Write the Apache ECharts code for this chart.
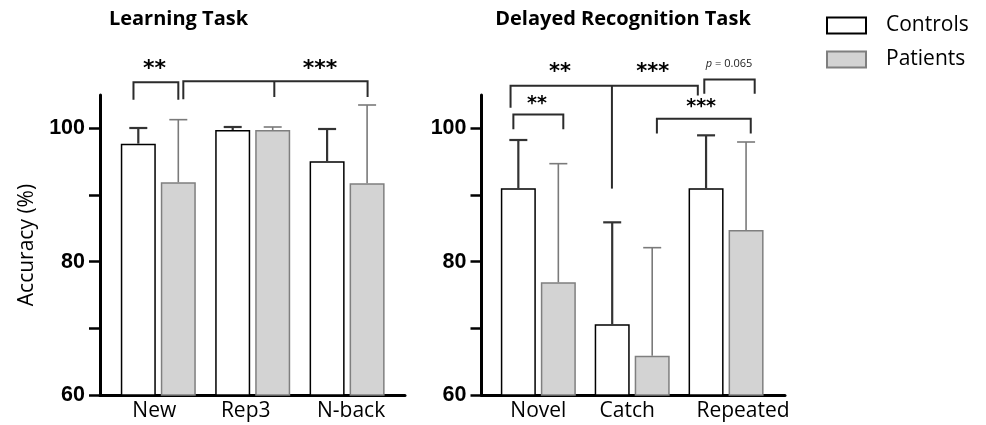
<!DOCTYPE html>
<html><head><meta charset="utf-8">
<script src="https://cdn.jsdelivr.net/npm/echarts@6/dist/echarts.min.js"></script>
<style>html,body{margin:0;padding:0;background:#fff}#c{width:986px;height:425px}</style>
</head><body><div id="c"></div>
<script>
// ---- data ----
const learningCategories = ['New', 'Rep3', 'N-back'];
const learningControls = [97.7, 99.75, 95.05];
const learningControlsSD = [2.35, 0.45, 4.85];
const learningPatients = [91.9, 99.75, 91.75];
const learningPatientsSD = [9.4, 0.45, 11.75];

const delayedCategories = ['Novel', 'Catch', 'Repeated'];
const delayedControls = [91.0, 70.6, 91.0];
const delayedControlsSD = [7.25, 15.3, 7.95];
const delayedPatients = [76.9, 65.9, 84.75];
const delayedPatientsSD = [17.8, 16.2, 13.2];

const yTickValues = [60, 70, 80, 90, 100];
const yLabelValues = [60, 80, 100];

// significance brackets: xs in category units (0 = centre of first category), y in accuracy units
const learningBrackets = [
  {xs: [-0.263, 0.212], top: 106.9, ends: [104.3, 104.3]},
  {xs: [0.265, 1.229, 2.217], top: 107.05, ends: [104.35, 104.7, 104.7]}
];
const learningStars = [
  {x: -0.04, y: 108.9, text: '**'},
  {x: 1.713, y: 108.9, text: '***'}
];
const delayedBrackets = [
  {xs: [-0.296, 0.784, 1.699], top: 106.37, ends: [103.1, 90.96, 104.94]},
  {xs: [-0.266, 0.266], top: 102.07, ends: [99.88, 99.88]},
  {xs: [1.263, 2.263], top: 101.45, ends: [99.22, 99.22]},
  {xs: [1.768, 2.305], top: 107.31, ends: [105.2, 105.2]}
];
const delayedStars = [
  {x: 0.231, y: 108.3, text: '**', size: 21},
  {x: 1.219, y: 108.3, text: '***', size: 21},
  {x: -0.014, y: 103.7, text: '**', size: 19},
  {x: 1.734, y: 103.2, text: '***', size: 19},
  {x: 2.032, y: 109.6, text: '{i|p} = 0.065', size: 11, plain: true}
];

// ---- styling ----
const BAR_W = 35, BAR_OFFSET = 20, CAP = 9;
const CTRL_BORDER = '#000', PAT_FILL = '#d3d3d3', PAT_BORDER = '#7f7f7f';
const LINE = '#2b2b2b';
// horizontal nudges of the category labels (px), as in the original figure
const LABEL_NUDGE = {'New': -4, 'Rep3': -7, 'N-back': 4, 'Novel': 0, 'Catch': -5, 'Repeated': 17};

function errorSeries(axisIdx, means, sds, side, color, width) {
  return {
    type: 'custom', name: 'err', xAxisIndex: axisIdx, yAxisIndex: axisIdx, clip: false, z: 3, silent: true,
    data: means.map((m, i) => [i, m, m + sds[i]]),
    renderItem(params, api) {
      const base = api.coord([api.value(0), api.value(1)]);
      const top = api.coord([api.value(0), api.value(2)]);
      const x = base[0] + side * BAR_OFFSET;
      const st = {stroke: color, lineWidth: width};
      return {type: 'group', children: [
        {type: 'line', shape: {x1: x, y1: base[1], x2: x, y2: top[1]}, style: st},
        {type: 'line', shape: {x1: x - CAP, y1: top[1], x2: x + CAP, y2: top[1]}, style: st}
      ]};
    }
  };
}

function bracketSeries(axisIdx, brackets, stars) {
  return {
    type: 'custom', name: 'sig', xAxisIndex: axisIdx, yAxisIndex: axisIdx, clip: false, z: 4, silent: true,
    data: [[0, 80]],
    renderItem(params, api) {
      const band = api.size([1, 0])[0];
      const x0 = api.coord([0, 80])[0];
      const X = u => x0 + u * band;
      const Y = v => api.coord([0, v])[1];
      const st = {stroke: LINE, lineWidth: 2, fill: null, lineJoin: 'miter'};
      const children = [];
      brackets.forEach(b => {
        const n = b.xs.length;
        const yt = Y(b.top);
        children.push({type: 'polyline', shape: {points: [
          [X(b.xs[0]), Y(b.ends[0])], [X(b.xs[0]), yt], [X(b.xs[n - 1]), yt], [X(b.xs[n - 1]), Y(b.ends[n - 1])]
        ]}, style: st});
        for (let i = 1; i < n - 1; i++) {
          children.push({type: 'line', shape: {x1: X(b.xs[i]), y1: yt, x2: X(b.xs[i]), y2: Y(b.ends[i])}, style: st});
        }
      });
      stars.forEach(s => {
        const size = s.size || 22;
        children.push({type: 'text', x: X(s.x), y: Y(s.y), style: s.plain ? {
          text: s.text, fill: '#222', font: size + 'px "Open Sans"', align: 'center', verticalAlign: 'middle',
          rich: {i: {fontStyle: 'italic', fontSize: size, fontFamily: 'Open Sans', fill: '#222'}}
        } : {
          text: s.text, fill: '#000', font: 'bold ' + size + 'px "DejaVu Sans"', align: 'center', verticalAlign: 'middle'
        }});
      });
      return {type: 'group', children};
    }
  };
}

const axisGridDefs = [
  {left: 100, top: 95, width: 305, height: 300},
  {left: 111.1, top: 95, width: 283.2, height: 300},
  {left: 481.5, top: 95, width: 303.5, height: 300},
  {left: 491.4, top: 95, width: 281.6, height: 300}
];

const catRich = {};
Object.keys(LABEL_NUDGE).forEach((k, i) => {
  const d = LABEL_NUDGE[k];
  catRich['c' + i] = {fontFamily: 'Open Sans', fontSize: 21, color: '#000',
    padding: d >= 0 ? [0, 0, 0, 2 * d] : [0, -2 * d, 0, 0]};
});
function catFormatter(v) {
  const i = Object.keys(LABEL_NUDGE).indexOf(v);
  return i < 0 ? v : '{c' + i + '|' + v + '}';
}

function frameX(g) {
  return {gridIndex: g, type: 'value', min: 0, max: 1,
    axisLine: {show: true, onZero: false, lineStyle: {color: '#000', width: 3}},
    axisTick: {show: false}, axisLabel: {show: false}, splitLine: {show: false}};
}
function catX(g, cats) {
  return {gridIndex: g, type: 'category', data: cats,
    axisLine: {show: false}, axisTick: {show: false}, splitLine: {show: false},
    axisLabel: {interval: 0, hideOverlap: false, fontFamily: 'Open Sans', fontSize: 21, color: '#000', margin: 6,
      formatter: catFormatter, rich: catRich}};
}
function frameY(g, withName) {
  const y = {gridIndex: g, type: 'value', min: 60, max: 105,
    axisLine: {show: true, onZero: false, lineStyle: {color: '#000', width: 3}},
    axisTick: {show: true, length: 11, lineStyle: {color: '#000', width: 2.5}, customValues: yTickValues},
    axisLabel: {customValues: yLabelValues, fontFamily: 'Liberation Sans', fontWeight: 'bold', fontSize: 21.5, color: '#000', margin: 15},
    splitLine: {show: false}};
  if (withName) {
    y.name = 'Accuracy (%)';
    y.nameLocation = 'middle';
    y.nameGap = 62;
    y.nameTextStyle = {fontFamily: 'Open Sans', fontSize: 21, color: '#000'};
  }
  return y;
}
function hiddenY(g) {
  return {gridIndex: g, type: 'value', min: 60, max: 105, show: false, splitLine: {show: false}};
}
function barSeries(name, axisIdx, data, fill, border) {
  return {type: 'bar', name, xAxisIndex: axisIdx, yAxisIndex: axisIdx, data,
    barWidth: BAR_W, barGap: (5 / BAR_W * 100) + '%', z: 2, silent: true,
    itemStyle: {color: fill, borderColor: border, borderWidth: 1.5}};
}

const chart = echarts.init(document.getElementById('c'), null, {renderer: 'canvas'});
chart.setOption({
  animation: false,
  backgroundColor: '#fff',
  grid: axisGridDefs,
  xAxis: [frameX(0), catX(1, learningCategories), frameX(2), catX(3, delayedCategories)],
  yAxis: [frameY(0, true), hiddenY(1), frameY(2, false), hiddenY(3)],
  legend: {
    data: ['Controls', 'Patients'], orient: 'vertical', left: 821, top: 10,
    itemWidth: 39, itemHeight: 16, itemGap: 13, icon: 'rect', selectedMode: false,
    textStyle: {fontFamily: 'Open Sans', fontSize: 21, color: '#000', padding: [0, 0, 0, 15]}
  },
  graphic: [
    {type: 'text', x: 178.5, y: 19, style: {text: 'Learning Task', font: 'bold 20px "Open Sans"', fill: '#000', align: 'center', verticalAlign: 'middle'}},
    {type: 'text', x: 623, y: 19, style: {text: 'Delayed Recognition Task', font: 'bold 20px "Open Sans"', fill: '#000', align: 'center', verticalAlign: 'middle'}}
  ],
  series: [
    barSeries('Controls', 1, learningControls, '#fff', CTRL_BORDER),
    barSeries('Patients', 1, learningPatients, PAT_FILL, PAT_BORDER),
    barSeries('Controls', 3, delayedControls, '#fff', CTRL_BORDER),
    barSeries('Patients', 3, delayedPatients, PAT_FILL, PAT_BORDER),
    errorSeries(1, learningControls, learningControlsSD, -1, '#333', 2.2),
    errorSeries(1, learningPatients, learningPatientsSD, 1, '#7a7a7a', 1.6),
    errorSeries(3, delayedControls, delayedControlsSD, -1, '#333', 2.2),
    errorSeries(3, delayedPatients, delayedPatientsSD, 1, '#7a7a7a', 1.6),
    bracketSeries(1, learningBrackets, learningStars),
    bracketSeries(3, delayedBrackets, delayedStars)
  ]
});
</script></body></html>
